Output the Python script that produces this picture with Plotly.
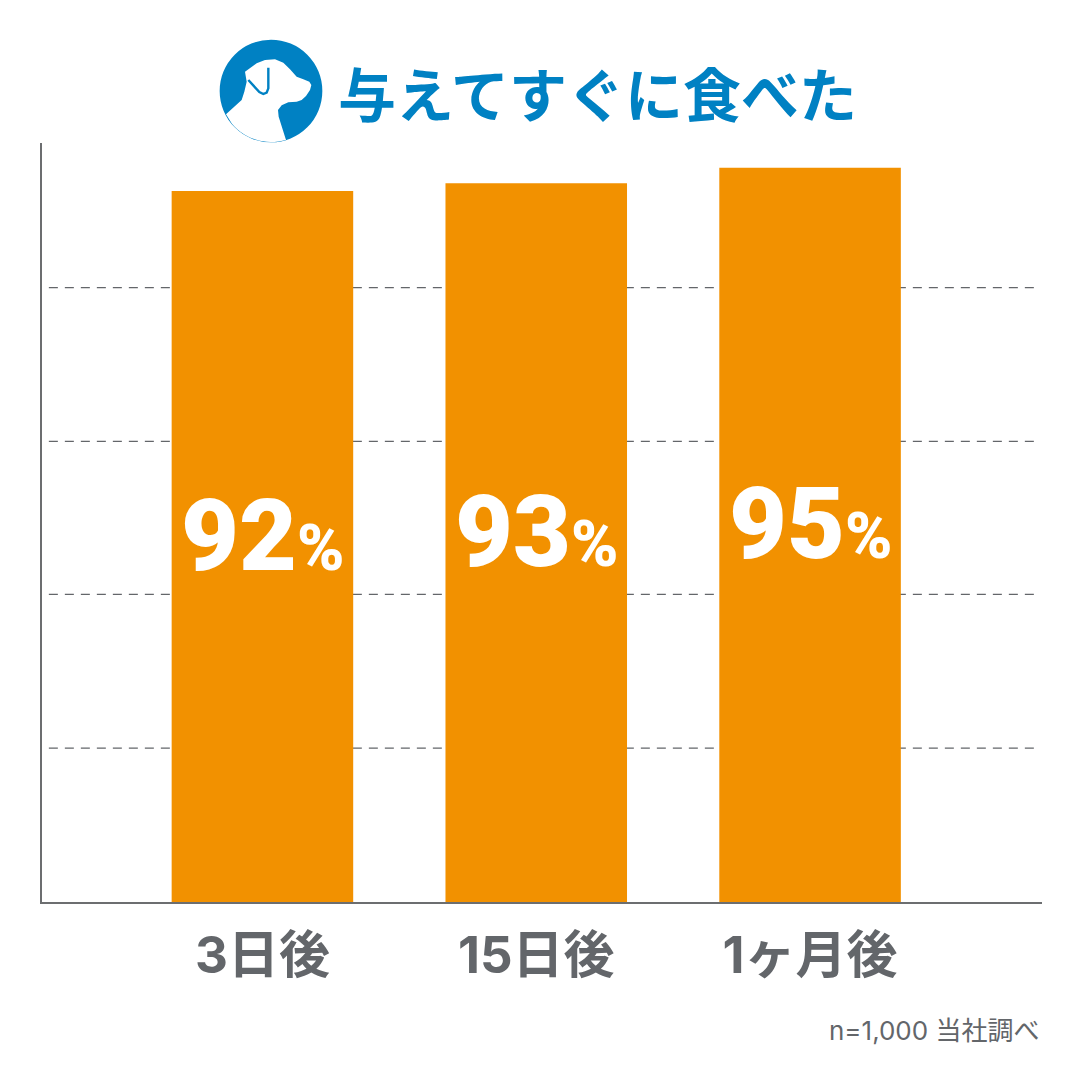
import numpy as np
import plotly.graph_objects as go

# chart data
categories = ['3日後', '15日後', '1ヶ月後']
values = [92, 93, 95]
grid_levels = [19.9, 39.8, 59.6, 79.5]

WIDTH, HEIGHT = 1081, 1080
LEFT, RIGHT, TOP, BOTTOM = 42, 1042, 143, 902
FONT = 'Noto Sans CJK JP'
LATIN = 'Inter, Noto Sans CJK JP'
GREY = '#63666a'
BLUE = '#0081c3'
ORANGE = '#f29100'


def to_paper(x, y):
    # page pixels -> paper coordinates of the plot area
    return (x - LEFT) / (RIGHT - LEFT), (BOTTOM - y) / (BOTTOM - TOP)


def zoom_path(points, close=True):
    # points were measured on a 3x crop with its corner at (200, 20)
    parts = []
    for i, (zx, zy) in enumerate(points):
        px, py = to_paper(200 + zx / 3, 20 + zy / 3)
        parts.append(f"{'M' if i == 0 else 'L'}{px:.5f},{py:.5f}")
    return ' '.join(parts) + (' Z' if close else '')


fig = go.Figure()

# dashed guides stay under the bars, so they are shapes and not traces
for level in grid_levels:
    fig.add_shape(
        type='line', xref='x', yref='y', layer='below',
        x0=-0.78, x1=2.825, y0=level, y1=level,
        line=dict(color=GREY, width=1.2, dash='9px,7px')
    )

fig.add_trace(go.Bar(
    x=[0, 1, 2],
    y=values,
    width=0.663,
    marker=dict(color=ORANGE, line=dict(width=0)),
    showlegend=False
))

for i, value in enumerate(values):
    fig.add_annotation(
        x=i, y=value / 2, xref='x', yref='y',
        text=f"{value}<span style='font-size:64px'>%</span>",
        showarrow=False,
        yshift=11,
        font=dict(family='Roboto', size=100, color='white', weight=900)
    )

fig.add_annotation(
    x=to_paper(336, 0)[0], y=to_paper(0, 92)[1], xref='paper', yref='paper',
    xanchor='left', yanchor='middle',
    text='与えてすぐに食べた',
    showarrow=False,
    font=dict(family=FONT, size=58, color=BLUE, weight=700)
)
fig.add_annotation(
    x=1, y=to_paper(0, 1030)[1], xref='paper', yref='paper',
    xanchor='right', yanchor='middle',
    text='n=1,000 当社調べ',
    showarrow=False,
    font=dict(family=LATIN, size=26, color=GREY)
)

# dog icon next to the title
cx, cy, r = 213, 213, 154
x0, y0 = to_paper(200 + (cx - r) / 3, 20 + (cy + r) / 3)
x1, y1 = to_paper(200 + (cx + r) / 3, 20 + (cy - r) / 3)
fig.add_shape(type='circle', xref='paper', yref='paper', x0=x0, y0=y0, x1=x1, y1=y1,
              fillcolor=BLUE, line=dict(width=0))
head = [(78, 283), (125, 240), (133, 215), (140, 185), (135, 155), (170, 130), (195, 120),
        (225, 118), (250, 128), (270, 148), (290, 170), (310, 178), (328, 185), (334, 195),
        (330, 210), (318, 228), (305, 240), (290, 245), (265, 247), (245, 256), (234, 270),
        (236, 290), (258, 360)]
angles = np.radians(np.linspace(72.5, 140, 16))
head += [(cx + (r - 1) * np.cos(a), cy + (r - 1) * np.sin(a)) for a in angles]
fig.add_shape(type='path', xref='paper', yref='paper', path=zoom_path(head),
              fillcolor='white', line=dict(width=0))
ear = [(205, 143), (205, 205), (200, 218), (190, 222), (178, 216), (145, 180)]
fig.add_shape(type='path', xref='paper', yref='paper', path=zoom_path(ear, close=False),
              line=dict(color=BLUE, width=2.4))

fig.update_layout(
    width=WIDTH,
    height=HEIGHT,
    margin=dict(l=LEFT, r=WIDTH - RIGHT, t=TOP, b=HEIGHT - BOTTOM, pad=0),
    paper_bgcolor='white',
    plot_bgcolor='white',
    font=dict(family=FONT, color=GREY),
    xaxis=dict(
        range=[-0.805, 2.847],
        tickmode='array',
        tickvals=[0, 1, 2],
        ticktext=[f'<b>{c}</b>' for c in categories],
        tickfont=dict(family=LATIN, size=51, color=GREY),
        ticks='outside',
        ticklen=8,
        tickcolor='rgba(0,0,0,0)',
        showgrid=False,
        zeroline=False,
        showline=True,
        linecolor='#6c6e70',
        linewidth=2
    ),
    yaxis=dict(
        range=[0, 98.2],
        showticklabels=False,
        ticks='',
        showgrid=False,
        zeroline=False,
        showline=True,
        linecolor='#6c6e70',
        linewidth=2
    )
)

fig.write_html('out.html', config=dict(displayModeBar=False),
               post_script="document.body.style.margin='0';")
